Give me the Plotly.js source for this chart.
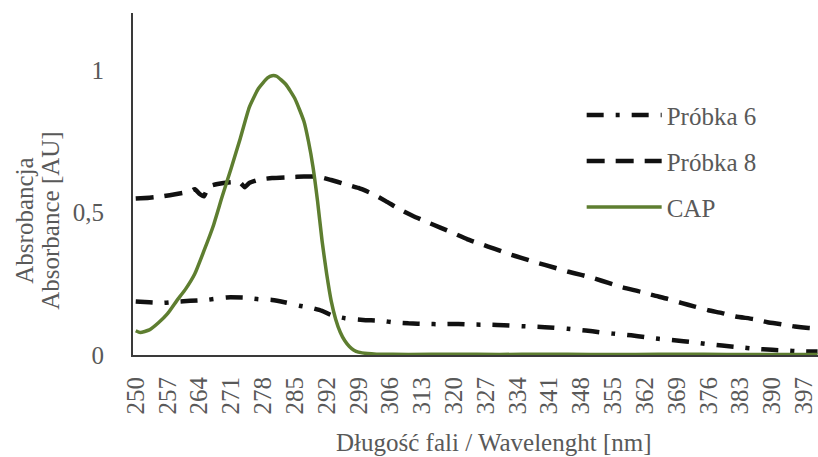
<!DOCTYPE html>
<html>
<head>
<meta charset="utf-8">
<script src="https://cdn.plot.ly/plotly-3.0.1.min.js"></script>
<style>html,body{margin:0;padding:0;background:#fff;}#chart{width:818px;height:457px;}</style>
</head>
<body>
<div id="chart"></div>
<script>
// Wavelength (nm) sample points and absorbance values
var capX = [250,251,253,255,257,259,261,263,265,267,269,271,273,275,277,279,280,281,283,285,287,288,289,290,291,292,293,294,295,296,297,298,299,301,303,310,320,330,340,350,360,370,380,390,400];
var capY = [0.085,0.079,0.088,0.113,0.145,0.190,0.232,0.285,0.365,0.450,0.555,0.655,0.760,0.870,0.935,0.972,0.980,0.978,0.950,0.900,0.820,0.750,0.660,0.540,0.400,0.285,0.190,0.125,0.080,0.050,0.030,0.017,0.010,0.005,0.003,0.002,0.003,0.002,0.003,0.002,0.002,0.003,0.002,0.002,0.002];

var p8X = [250,253,256,259,262,263,264,265,266,268,271,273,274,275,277,280,284,287,290,293,296,299,302,305,308,311,314,317,320,323,326,329,332,335,338,342,345,348,351,354,357,361,364,367,370,373,376,379,382,386,389,392,395,398,400];
var p8Y = [0.549,0.552,0.557,0.565,0.574,0.582,0.566,0.557,0.590,0.600,0.606,0.604,0.589,0.604,0.615,0.621,0.624,0.626,0.626,0.614,0.600,0.586,0.566,0.540,0.512,0.488,0.467,0.447,0.427,0.406,0.389,0.372,0.355,0.340,0.325,0.307,0.293,0.281,0.268,0.253,0.238,0.222,0.209,0.197,0.183,0.170,0.157,0.147,0.135,0.126,0.115,0.108,0.100,0.095,0.093];

var p6X = [250,253,256,259,262,266,270,274,277,280,283,286,289,291,293,296,300,304,307,310,314,317,321,324,328,331,335,338,342,345,349,352,355,359,362,365,369,372,376,379,383,386,390,393,396,400];
var p6Y = [0.188,0.185,0.183,0.187,0.190,0.194,0.202,0.201,0.196,0.193,0.184,0.173,0.164,0.155,0.140,0.129,0.123,0.120,0.114,0.111,0.109,0.108,0.109,0.107,0.106,0.104,0.101,0.099,0.096,0.092,0.086,0.080,0.075,0.069,0.063,0.057,0.051,0.046,0.038,0.033,0.027,0.022,0.018,0.016,0.013,0.012];

var xTicks = [250,257,264,271,278,285,292,299,306,313,320,327,334,341,348,355,362,369,376,383,390,397];
var yTicks = [0, 0.5, 1];
var yTickText = ["0", "0,5", "1"];

var seriesNames = ["Próbka 6", "Próbka 8", "CAP"];

var txtColor = "#595959";
var fs = 25;
function tf() { return {family: "serif", size: fs, color: txtColor}; }

var traces = [
  {x: p6X, y: p6Y, name: seriesNames[0], mode: "lines", legendgroup: "a",
   line: {color: "#111111", width: 4.5, dash: "17px,12px,4px,12px", shape: "spline", smoothing: 0.5}},
  {x: p8X, y: p8Y, name: seriesNames[1], mode: "lines", legendgroup: "b",
   line: {color: "#111111", width: 4.5, dash: "18px,11px", shape: "spline", smoothing: 0.5}},
  {x: capX, y: capY, name: seriesNames[2], mode: "lines", legendgroup: "c",
   line: {color: "#5E7E30", width: 3.5, shape: "spline", smoothing: 0.5}}
];

var layout = {
  width: 818, height: 457,
  margin: {l: 133, r: 0, t: 13, b: 102},
  paper_bgcolor: "#ffffff", plot_bgcolor: "#ffffff",
  showlegend: true,
  legend: {x: 0.655, y: 0.768, xanchor: "left", yanchor: "top",
           font: tf(), itemwidth: 75, tracegroupgap: 10.5, traceorder: "grouped",
           bgcolor: "rgba(0,0,0,0)"},
  xaxis: {type: "linear", range: [249.4, 400.1], tickmode: "array", tickvals: xTicks,
          ticktext: xTicks.map(String), tickangle: -90, showgrid: false, zeroline: false,
          showline: true, linecolor: "#3a3a3a", linewidth: 2, ticks: "",
          ticklabelstandoff: 10, tickfont: tf()},
  yaxis: {range: [0, 1.2], tickmode: "array", tickvals: yTicks, ticktext: yTickText,
          showgrid: false, zeroline: false, showline: true, linecolor: "#3a3a3a", linewidth: 2,
          ticks: "", ticklabelstandoff: 22, tickfont: tf()},
  annotations: [
    {text: "Absrobancja", xref: "paper", yref: "paper", x: -0.158, y: 0.392,
     xanchor: "center", yanchor: "middle", textangle: -90, showarrow: false, font: tf()},
    {text: "Absorbance [AU]", xref: "paper", yref: "paper", x: -0.120, y: 0.392,
     xanchor: "center", yanchor: "middle", textangle: -90, showarrow: false, font: tf()},
    {text: "Długość fali / Wavelenght [nm]", xref: "paper", yref: "paper", x: 0.527, y: -0.257,
     xanchor: "center", yanchor: "middle", showarrow: false, font: tf()}
  ]
};

Plotly.newPlot("chart", traces, layout, {staticPlot: true});
</script>
</body>
</html>
